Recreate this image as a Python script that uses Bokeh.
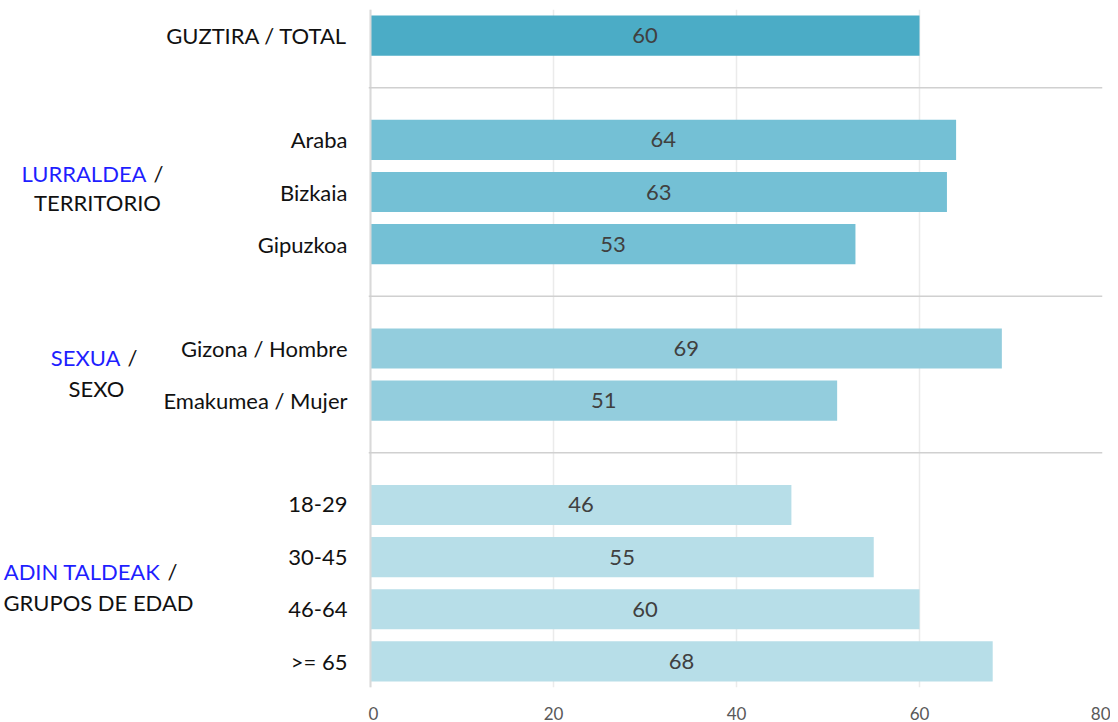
from bokeh.plotting import figure
from bokeh.layouts import row
from bokeh.models import Range1d, FixedTicker, Span, ColumnDataSource
from bokeh.core.properties import value
from bokeh.embed import file_html
from bokeh.resources import INLINE

# ---------------- data ----------------
categories = ["GUZTIRA / TOTAL", "Araba", "Bizkaia", "Gipuzkoa",
              "Gizona / Hombre", "Emakumea / Mujer",
              "18-29", "30-45", "46-64", ">= 65"]
values = [60, 64, 63, 53, 69, 51, 46, 55, 60, 68]
group_of = [0, 1, 1, 1, 2, 2, 3, 3, 3, 3]
group_eu = ["LURRALDEA", "SEXUA", "ADIN TALDEAK"]
group_es = ["TERRITORIO", "SEXO", "GRUPOS DE EDAD"]
x_ticks = [0, 20, 40, 60, 80]

# ---------------- styling ----------------
FONT = "Lato"
LABEL_SIZE = "22px"
group_colors = ["#4BACC6", "#74C0D5", "#93CDDD", "#B7DEE8"]
LEFT_W = 368          # left panel holding all category / group texts
TOTAL_W = 1110
H = 722
TOP, BOTTOM = 9, 35
RIGHT = 8
X0_PAD = 2            # pixels between panel edge and the zero line
XMAX = 80

slots = [i + g for i, g in enumerate(group_of)]
n_slots = max(slots) + 1
sep_slots = [slots[i] - 1 for i in range(1, len(slots)) if group_of[i] != group_of[i - 1]]

src = ColumnDataSource(dict(
    y=slots, v=values, half=[v / 2 for v in values],
    lbl=[str(v) for v in values],
    color=[group_colors[g] for g in group_of],
    cat=categories,
))

yr = Range1d(n_slots - 0.5, -0.5)

main_w = TOTAL_W - LEFT_W
frame_w = main_w - RIGHT
ppu = (frame_w - X0_PAD) / XMAX

p = figure(width=main_w, height=H, output_backend="svg", toolbar_location=None,
           x_range=Range1d(-X0_PAD / ppu, XMAX), y_range=yr, y_axis_type=None,
           min_border_left=0, min_border_right=RIGHT, min_border_top=TOP,
           min_border_bottom=BOTTOM)
p.outline_line_color = None

# grid
p.ygrid.grid_line_color = None
p.xgrid.grid_line_color = "#EBEBEB"
p.xgrid.grid_line_width = 1.5
p.xaxis.ticker = FixedTicker(ticks=x_ticks)

# x axis
p.xaxis.axis_line_color = None
p.xaxis.major_tick_line_color = None
p.xaxis.minor_tick_line_color = None
p.xaxis.major_tick_out = 0
p.xaxis.major_label_standoff = 19
p.xaxis.major_label_text_font = FONT
p.xaxis.major_label_text_font_size = "17px"
p.xaxis.major_label_text_color = "#595959"

# vertical category axis line
p.add_layout(Span(location=0, dimension="height", line_color="#D9D9D9", line_width=2))

# separators
for s in sep_slots:
    p.add_layout(Span(location=s, dimension="width", line_color="#D0D0D0", line_width=1.5))

# bars
p.hbar(y="y", left=0, right="v", height=0.77, fill_color="color", line_color=None, source=src)

# value labels
p.text(x="half", y="y", text="lbl", source=src, text_align="center", text_baseline="middle",
       text_font=value(FONT), text_font_size="22px", text_color="#404040")

# ---------------- left panel with category + group labels ----------------
left = figure(width=LEFT_W, height=H, output_backend="svg", toolbar_location=None,
              x_range=Range1d(0, LEFT_W), y_range=yr,
              x_axis_type=None, y_axis_type=None,
              min_border_left=0, min_border_right=0, min_border_top=TOP,
              min_border_bottom=BOTTOM)
left.outline_line_color = None
left.grid.grid_line_color = None

CAT_RIGHT = 347
left.text(x=CAT_RIGHT, y="y", text="cat", source=src, text_align="right",
          text_baseline="middle", text_font=value(FONT), text_font_size=LABEL_SIZE,
          text_color="#111111")

group_centers = []
for g in range(1, len(group_eu) + 1):
    ss = [s for s, gg in zip(slots, group_of) if gg == g]
    group_centers.append(sum(ss) / len(ss))

blue_right = [146, 120, 160]
line2_center = [97, 96, 98]
y_offs = [(-19, 10), (-17, 14), (-12, 19)]

gl = ColumnDataSource(dict(
    y=group_centers, eu=group_eu, es=group_es,
    xr=blue_right, xs=[b + 7 for b in blue_right], x2=line2_center,
    o1=[o[0] for o in y_offs], o2=[o[1] for o in y_offs],
    slash=["/"] * len(group_eu),
))
left.text(x="xr", y="y", y_offset="o1", text="eu", source=gl, text_align="right",
          text_baseline="middle", text_font=value(FONT), text_font_size=LABEL_SIZE,
          text_color="#1F1FFF")
left.text(x="xs", y="y", y_offset="o1", text="slash", source=gl, text_align="left",
          text_baseline="middle", text_font=value(FONT), text_font_size=LABEL_SIZE,
          text_color="#111111")
left.text(x="x2", y="y", y_offset="o2", text="es", source=gl, text_align="center",
          text_baseline="middle", text_font=value(FONT), text_font_size=LABEL_SIZE,
          text_color="#111111")

layout = row(left, p)
open("out.html", "w").write(file_html(layout, INLINE))
